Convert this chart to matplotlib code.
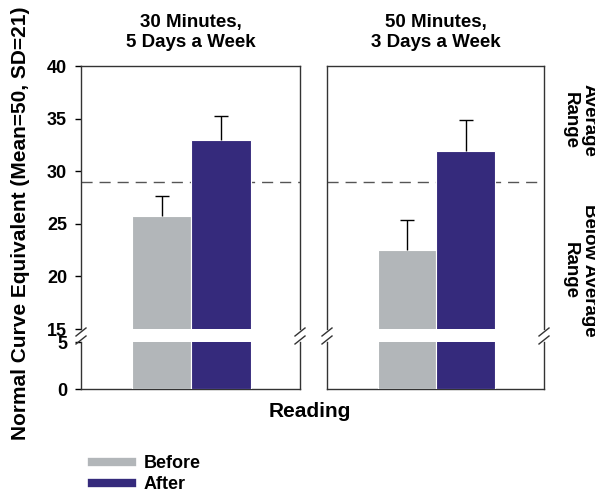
import matplotlib
matplotlib.use("Agg")
import matplotlib.pyplot as plt
from matplotlib.lines import Line2D

plt.rcParams["font.family"] = "Liberation Sans"
plt.rcParams["font.weight"] = "bold"

panels = ["30 Minutes,\n5 Days a Week", "50 Minutes,\n3 Days a Week"]
groups = ["Before", "After"]
means = [[25.7, 33.0], [22.5, 31.9]]
errors = [[1.9, 2.2], [2.9, 3.0]]
colors = ["#B2B6B9", "#352A7C"]
avg_cutoff = 29


def main():
    fig = plt.figure(figsize=(5.95, 4.98), dpi=100)
    W, H = 595, 498

    lefts = [81, 327]
    widths = [219, 217]
    up_top, up_bot = 66, 329
    lo_top, lo_bot = 342, 389

    x = [0, 1]
    for i, (left, width) in enumerate(zip(lefts, widths)):
        ax_up = fig.add_axes([left / W, 1 - up_bot / H, width / W, (up_bot - up_top) / H])
        ax_lo = fig.add_axes([left / W, 1 - lo_bot / H, width / W, (lo_bot - lo_top) / H])

        for ax in (ax_up, ax_lo):
            ax.bar(x, means[i], width=1.0, color=colors, edgecolor="white",
                   linewidth=0.8, zorder=3)
            ax.set_xlim(-1.36, 2.33)
            ax.set_xticks([])
            for s in ax.spines.values():
                s.set_linewidth(1.0)
                s.set_color("#333333")

        # upper-only error bars: hide the lower caps
        eb = ax_up.errorbar(x, means[i], yerr=[[0, 0], errors[i]], fmt="none",
                            ecolor="black", elinewidth=1.0, capsize=5, capthick=1.0,
                            zorder=4)
        eb[1][0].set_visible(False)
        ax_up.axhline(avg_cutoff, color="#555555", lw=1.0, dashes=(8, 5), zorder=2)

        ax_up.set_ylim(15, 40)
        ax_lo.set_ylim(0, 5)
        ax_up.spines["bottom"].set_visible(False)
        ax_lo.spines["top"].set_visible(False)

        if i == 0:
            ax_up.set_yticks([15, 20, 25, 30, 35, 40])
            ax_lo.set_yticks([0, 5])
            for ax in (ax_up, ax_lo):
                ax.tick_params(axis="y", direction="out", length=4, width=1,
                               labelsize=13, pad=6)
        else:
            ax_up.set_yticks([])
            ax_lo.set_yticks([])

        ax_up.set_title(panels[i], fontsize=13.5, fontweight="bold", pad=14,
                        linespacing=1.17)

        # break marks on both spines
        d = 5
        for xs in (left, left + width):
            for yb in (up_bot + 3, lo_top - 2):
                fig.add_artist(Line2D([(xs - d) / W, (xs + d) / W],
                                      [1 - (yb + 4) / H, 1 - (yb - 4) / H],
                                      color="#333333", lw=1.0))

    fig.text(21 / W, 1 - 223 / H, "Normal Curve Equivalent (Mean=50, SD=21)",
             rotation=90, ha="center", va="center", fontsize=15, fontweight="bold")
    fig.text(310 / W, 1 - 411 / H, "Reading", ha="center", va="center",
             fontsize=15, fontweight="bold")

    fig.text(580 / W, 1 - 120 / H, "Average\nRange", rotation=-90, ha="center",
             va="center", multialignment="center", fontsize=13.5, fontweight="bold",
             linespacing=1.15)
    fig.text(580 / W, 1 - 270 / H, "Below Average\nRange", rotation=-90, ha="center",
             va="center", multialignment="center", fontsize=13.5, fontweight="bold",
             linespacing=1.15)

    handles = [Line2D([], [], color=c, lw=6) for c in colors]
    fig.legend(handles, groups, loc="upper left", bbox_to_anchor=(92 / W, 1 - 455 / H),
               frameon=False, handlelength=2.2, labelspacing=0.22,
               handletextpad=0.65, borderaxespad=0, borderpad=0,
               prop={"weight": "bold", "size": 13})

    fig.savefig("out.png", dpi=100)
    plt.close(fig)


if __name__ == "__main__":
    main()
